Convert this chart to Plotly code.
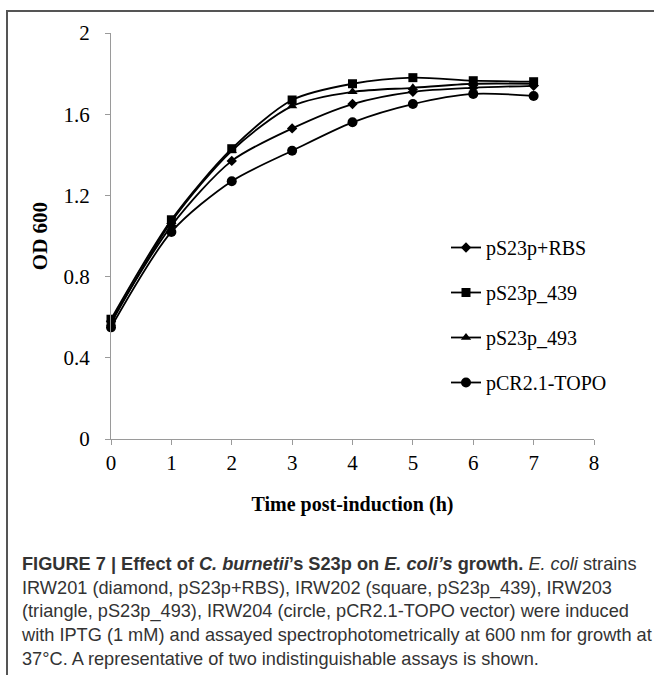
import plotly.graph_objects as go

# ---- data ----
time_h = [0, 1, 2, 3, 4, 5, 6, 7]
rbs = [0.58, 1.05, 1.37, 1.53, 1.65, 1.71, 1.73, 1.74]        # pS23p+RBS (diamond)
p439 = [0.59, 1.08, 1.43, 1.67, 1.75, 1.78, 1.765, 1.76]      # pS23p_439 (square)
p493 = [0.57, 1.07, 1.42, 1.64, 1.71, 1.73, 1.75, 1.75]       # pS23p_493 (triangle)
topo = [0.55, 1.02, 1.27, 1.42, 1.56, 1.65, 1.70, 1.69]       # pCR2.1-TOPO (circle)

series_names = ["pS23p+RBS", "pS23p_439", "pS23p_493", "pCR2.1-TOPO"]
series_vals = [rbs, p439, p493, topo]
symbols = ["diamond", "square", "triangle-up", "circle"]
msizes = [8, 9, 9, 10]

x_ticks = [0, 1, 2, 3, 4, 5, 6, 7, 8]
y_ticks = [0, 0.4, 0.8, 1.2, 1.6, 2]
y_ticklabels = ["0", "0.4", "0.8", "1.2", "1.6", "2"]

W, H = 654, 675
ML, MR, MT, MB = 111, 60, 33, 236
PW, PH = W - ML - MR, H - MT - MB

def px(x):
    return (x - ML) / PW

def py(y):
    return (H - MB - y) / PH

serif = "Liberation Serif, Times New Roman, serif"
sans = "Liberation Sans, Arial, sans-serif"

fig = go.Figure()
for name, vals, sym, ms in zip(series_names, series_vals, symbols, msizes):
    fig.add_trace(go.Scatter(
        x=time_h, y=vals, name=name, legendgroup=name,
        mode="lines+markers",
        line=dict(color="black", width=1.8, shape="spline", smoothing=0.8),
        marker=dict(symbol=sym, size=ms, color="black"),
        cliponaxis=False,
    ))

caption = ("<b>FIGURE 7 | Effect of <i>C. burnetii</i>’s S23p on <i>E. coli’s</i> growth.</b> "
           "<i>E. coli</i> strains<br>"
           "IRW201 (diamond, pS23p+RBS), IRW202 (square, pS23p_439), IRW203<br>"
           "(triangle, pS23p_493), IRW204 (circle, pCR2.1-TOPO vector) were induced<br>"
           "with IPTG (1 mM) and assayed spectrophotometrically at 600 nm for growth at<br>"
           "37°C. A representative of two indistinguishable assays is shown.")

fig.update_layout(
    width=W, height=H,
    margin=dict(l=ML, r=MR, t=MT, b=MB, autoexpand=False),
    paper_bgcolor="white", plot_bgcolor="white",
    showlegend=True,
    legend=dict(
        x=px(446), y=py(228), xanchor="left", yanchor="top",
        font=dict(family=serif, size=20, color="black"),
        tracegroupgap=16, bgcolor="rgba(0,0,0,0)", itemwidth=30,
    ),
    xaxis=dict(
        range=[0, 8], tickvals=x_ticks, ticktext=[str(t) for t in x_ticks],
        showline=True, linecolor="#9a9a9a", linewidth=1,
        ticks="outside", ticklen=5, tickcolor="#9a9a9a",
        showgrid=False, zeroline=False, automargin=False,
        tickfont=dict(family=serif, size=21, color="black"),
        title=dict(text="<b>Time post-induction (h)</b>",
                   font=dict(family=serif, size=20, color="black"), standoff=22),
        fixedrange=True,
    ),
    yaxis=dict(
        range=[0, 2], tickvals=y_ticks, ticktext=y_ticklabels,
        showline=True, linecolor="#9a9a9a", linewidth=1,
        ticks="outside", ticklen=5, tickcolor="#9a9a9a",
        ticklabelstandoff=11,
        showgrid=False, zeroline=False, automargin=False,
        tickfont=dict(family=serif, size=21, color="black"),
        title=dict(text="<b>OD 600</b>",
                   font=dict(family=serif, size=21, color="black"), standoff=10),
        fixedrange=True,
    ),
    annotations=[dict(
        text=caption, xref="paper", yref="paper",
        x=px(19), y=py(552), xanchor="left", yanchor="top",
        align="left", showarrow=False,
        font=dict(family=sans, size=18.2, color="#333333"),
    )],
    shapes=[dict(
        type="path", xref="paper", yref="paper",
        path=f"M {px(7)} {py(680)} L {px(7)} {py(11)} L {px(660)} {py(11)}",
        line=dict(color="#555555", width=2),
    )],
)

fig.write_html("out.html", config={"displayModeBar": False},
               post_script="document.body.style.margin='0px';")
